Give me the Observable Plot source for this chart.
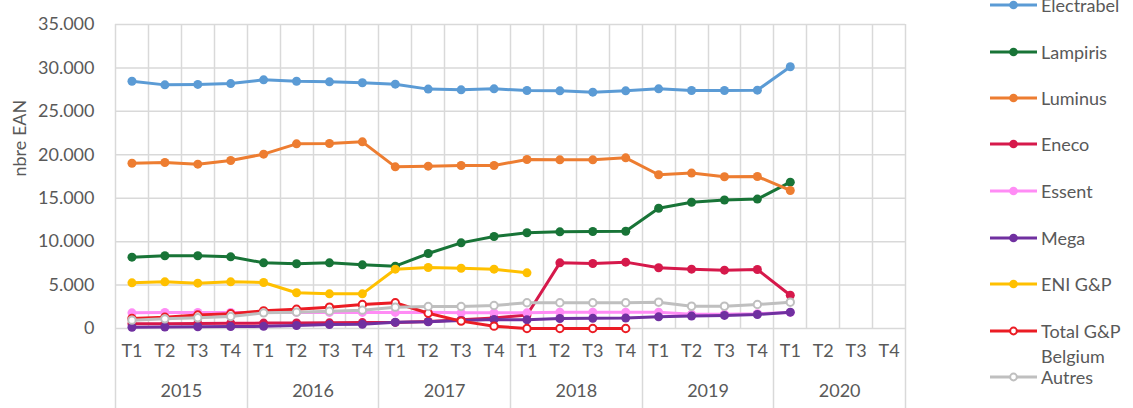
<!DOCTYPE html>
<html><head><meta charset="utf-8">
<script src="https://cdn.jsdelivr.net/npm/d3@7"></script>
<script src="https://cdn.jsdelivr.net/npm/@observablehq/plot@0.6"></script>
<style>
body{margin:0;background:#fff;}
#wrap{position:relative;width:1133px;height:408px;overflow:hidden;font-family:Lato,"Open Sans",sans-serif;color:#595959;}
#chart{position:absolute;left:0;top:0;}
#legend{position:absolute;left:990px;top:0;width:143px;height:408px;}
.item{position:absolute;left:0;height:22px;display:flex;align-items:center;font-size:18px;white-space:nowrap;}
.item svg{margin-right:4px;}
</style></head><body><div id="wrap"><div id="chart"></div><div id="legend"></div></div>
<script>
const years = [2015, 2016, 2017, 2018, 2019, 2020];
const quarters = ["T1", "T2", "T3", "T4"];
const yTicks = [0, 5000, 10000, 15000, 20000, 25000, 30000, 35000];

const electrabel = [28470, 28050, 28100, 28200, 28630, 28470, 28400, 28290, 28130, 27560, 27480, 27590, 27400, 27360, 27210, 27360, 27590, 27400, 27400, 27440, 30130];
const lampiris   = [8210, 8370, 8370, 8250, 7560, 7450, 7560, 7330, 7180, 8630, 9860, 10590, 11020, 11130, 11170, 11200, 13850, 14540, 14800, 14900, 16850];
const luminus    = [19030, 19110, 18920, 19340, 20070, 21260, 21300, 21490, 18610, 18690, 18770, 18770, 19460, 19420, 19420, 19650, 17700, 17890, 17470, 17500, 15890];
const eneco      = [550, 550, 580, 600, 620, 640, 650, 680, 700, 800, 1000, 1200, 1550, 7560, 7480, 7640, 6990, 6830, 6720, 6790, 3830];
const essent     = [1800, 1850, 1850, 1850, 1850, 1850, 1850, 1850, 1850, 1880, 1800, 1800, 1800, 1880, 1880, 1880, 1880, 1650, 1650, 1700, 1850];
const mega       = [150, 170, 200, 220, 250, 350, 450, 480, 720, 770, 920, 1030, 1000, 1150, 1170, 1200, 1340, 1430, 1510, 1610, 1880];
const eni        = [5260, 5370, 5220, 5370, 5300, 4110, 3990, 3990, 6830, 7020, 6940, 6830, 6410];
const totalGP    = [1150, 1300, 1550, 1700, 2030, 2220, 2460, 2760, 2960, 1750, 850, 270, 0, 0, 0, 0];
const autres     = [960, 1110, 1230, 1380, 1800, 1880, 2000, 2110, 2460, 2530, 2530, 2650, 2960, 2960, 2960, 2960, 3030, 2570, 2570, 2760, 3030];

const seriesNames  = ["Electrabel", "Lampiris", "Luminus", "Eneco", "Essent", "Mega", "ENI G&P", "Total G&P Belgium", "Autres"];
const seriesValues = [electrabel, lampiris, luminus, eneco, essent, mega, eni, totalGP, autres];
const seriesColors = ["#5B9BD5", "#187437", "#ED7D31", "#D6194B", "#FF8CF5", "#7030A0", "#FFC000", "#EB1C24", "#BFBFBF"];
const seriesOpen   = [false, false, false, false, false, false, false, true, true];

const keys = years.flatMap(y => quarters.map(q => `${y} ${q}`));

const W = 1133, H = 408, mL = 115, mR = 228, mT = 24, mB = 80;
const step = (W - mL - mR) / keys.length;
const fmt = d => d3.format(",")(d).replace(/,/g, ".");
const txt = "#595959", grid = "#D9D9D9", fs = 18;

const seriesMarks = seriesNames.flatMap((name, s) => {
  const rows = seriesValues[s].map((v, i) => ({key: keys[i], value: v})).filter(d => d.value != null);
  return [
    Plot.line(rows, {x: "key", y: "value", stroke: seriesColors[s], strokeWidth: 3, strokeLinejoin: "round", strokeLinecap: "round"}),
    Plot.dot(rows, {x: "key", y: "value", r: seriesOpen[s] ? 3.7 : 4.5,
      fill: seriesOpen[s] ? "#fff" : seriesColors[s],
      stroke: seriesColors[s], strokeWidth: seriesOpen[s] ? 2 : 0})
  ];
});

// vertical grid lines at category boundaries and year separators under the axis
const verticalLines = (index, scales, values, dims) => {
  const g = d3.create("svg:g");
  const x = scales.x;
  const st = x(keys[1]) - x(keys[0]);
  const top = dims.marginTop, bottom = dims.height - dims.marginBottom;
  for (let k = 0; k <= keys.length; k++) {
    const xx = Math.round((k < keys.length ? x(keys[k]) - st / 2 : x(keys[keys.length - 1]) + st / 2)) + 0.5;
    const yearLine = k % 4 === 0;
    g.append("line").attr("x1", xx).attr("x2", xx).attr("y1", top)
      .attr("y2", yearLine ? dims.height : bottom).attr("stroke", grid).attr("stroke-width", 1.5);
  }
  return g.node();
};

const chart = Plot.plot({
  width: W, height: H,
  marginLeft: mL, marginRight: mR, marginTop: mT, marginBottom: mB,
  style: {fontFamily: "Lato, 'Open Sans', sans-serif", background: "#fff", overflow: "visible"},
  x: {type: "point", domain: keys, padding: 0.5, round: false, axis: null},
  y: {domain: [0, 35000], axis: null},
  marks: [
    Plot.ruleY(yTicks, {stroke: grid, strokeWidth: 1.5}),
    verticalLines,
    ...seriesMarks,
    Plot.text(yTicks, {y: d => d, text: fmt, frameAnchor: "left", textAnchor: "end", dx: -21, fontSize: fs, fill: txt}),
    Plot.text(["nbre EAN"], {frameAnchor: "left", dx: -95, rotate: -90, fontSize: fs, fill: txt}),
    Plot.text(keys, {x: d => d, text: d => d.split(" ")[1], frameAnchor: "bottom", dy: 28, fontSize: fs, fill: txt}),
    Plot.text(years, {x: y => `${y} T2`, text: y => String(y), frameAnchor: "bottom", dx: step / 2, dy: 68, fontSize: fs, fill: txt})
  ]
});
document.getElementById("chart").append(chart);

// legend
const legend = document.getElementById("legend");
const centers = [4.7, 51.7, 97.7, 144.3, 191, 237.7, 284.3, 331, 376.7];
seriesNames.forEach((name, s) => {
  const item = document.createElement("div");
  item.className = "item";
  item.style.top = (centers[s] - 11) + "px";
  const c = seriesColors[s];
  const dot = seriesOpen[s]
    ? `<circle cx="23.5" cy="5" r="3.4" fill="#fff" stroke="${c}" stroke-width="2"/>`
    : `<circle cx="23.5" cy="5" r="4.3" fill="${c}"/>`;
  const label = name === "Total G&P Belgium" ? "Total G&amp;P" : name.replace("&", "&amp;");
  item.innerHTML = `<svg width="47" height="10"><line x1="0" x2="47" y1="5" y2="5" stroke="${c}" stroke-width="3"/>${dot}</svg><span>${label}</span>`;
  legend.append(item);
  if (name === "Total G&P Belgium") {
    const extra = document.createElement("div");
    extra.className = "item";
    extra.style.top = (356 - 11) + "px";
    extra.style.left = "51px";
    extra.textContent = "Belgium";
    legend.append(extra);
  }
});
</script>
</body></html>
